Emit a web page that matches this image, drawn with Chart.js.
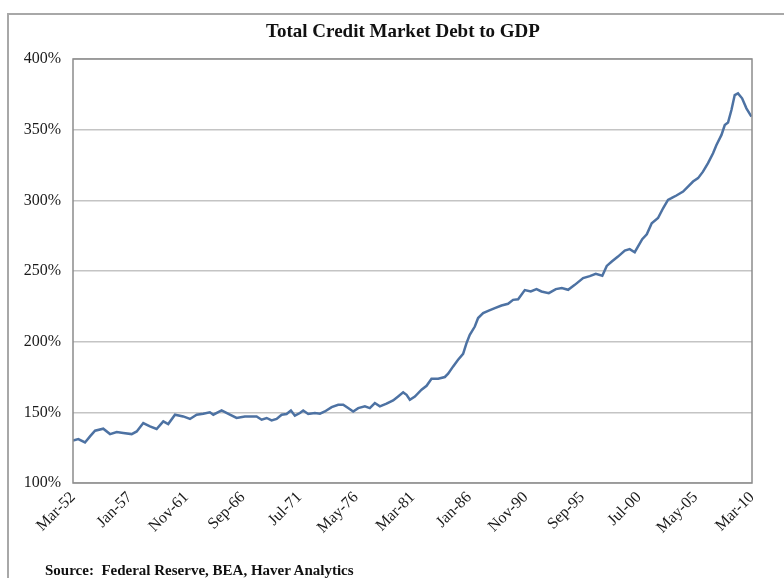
<!DOCTYPE html>
<html>
<head>
<meta charset="utf-8">
<script src="https://cdn.jsdelivr.net/npm/chart.js@4/dist/chart.umd.min.js"></script>
<style>
  html, body { margin: 0; padding: 0; background: #ffffff; }
  body { width: 784px; height: 578px; position: relative; overflow: hidden; }
  #frame { position: absolute; left: 7px; top: 13px; width: 900px; height: 700px;
           border-left: 2px solid #a8a8a8; border-top: 2px solid #a8a8a8; }
  #wrap { position: absolute; left: 0; top: 0; width: 784px; height: 578px; }
  #title { position: absolute; left: 203px; width: 400px; top: 19px; text-align: center;
           font-family: "Liberation Serif", serif; font-weight: bold; font-size: 19px;
           line-height: 23px; color: #111; white-space: nowrap; }
  #source { position: absolute; left: 45px; top: 562px; font-family: "Liberation Serif", serif;
            font-weight: bold; font-size: 15px; color: #111; white-space: pre; }
</style>
</head>
<body>
<div id="frame"></div>
<div id="wrap"><canvas id="c" width="784" height="578"></canvas></div>
<div id="title">Total Credit Market Debt to GDP</div>
<div id="source">Source:  Federal Reserve, BEA, Haver Analytics</div>
<script>
// Decimal-year positions of readings (Mar-52 .. Mar-10)
const years = [
  1952.17, 1952.62, 1953.19, 1953.62, 1954.05, 1954.75, 1955.33, 1955.90, 1956.46, 1957.18,
  1957.61, 1958.17, 1958.74, 1959.31, 1959.88, 1960.30, 1960.88, 1961.58, 1962.16, 1962.73,
  1963.29, 1963.86, 1964.15, 1964.86, 1965.57, 1966.14, 1966.85, 1967.85, 1968.28, 1968.71,
  1969.13, 1969.56, 1969.99, 1970.41, 1970.78, 1971.12, 1971.55, 1971.83, 1972.26, 1972.83,
  1973.26, 1973.68, 1974.26, 1974.82, 1975.25, 1975.67, 1976.10, 1976.53, 1977.10, 1977.52,
  1977.95, 1978.38, 1978.95, 1979.51, 1979.94, 1980.37, 1980.66, 1980.94, 1981.37, 1981.94,
  1982.37, 1982.79, 1983.36, 1983.93, 1984.21, 1984.64, 1985.06, 1985.49, 1985.78, 1986.06,
  1986.49, 1986.77, 1987.20, 1987.63, 1988.20, 1988.77, 1989.33, 1989.76, 1990.19, 1990.76,
  1991.27, 1991.76, 1992.18, 1992.81, 1993.41, 1993.92, 1994.46, 1995.03, 1995.74, 1996.31,
  1996.82, 1997.38, 1997.76, 1998.19, 1998.72, 1999.30, 1999.72, 2000.15, 2000.79, 2001.18,
  2001.60, 2002.14, 2002.57, 2002.99, 2003.28, 2003.71, 2004.28, 2004.70, 2005.13, 2005.56,
  2005.98, 2006.41, 2006.84, 2007.13, 2007.56, 2007.84, 2008.12, 2008.41, 2008.69, 2008.97,
  2009.32, 2009.69, 2010.12
];
// Total credit market debt as % of GDP
const debtPct = [
  130.1, 131.1, 128.7, 133.0, 137.0, 138.4, 134.6, 136.0, 135.4, 134.6,
  136.5, 142.4, 140.0, 138.2, 143.6, 141.7, 148.3, 147.1, 145.3, 148.3,
  149.0, 150.0, 148.3, 151.3, 148.3, 146.0, 147.1, 147.1, 144.8, 146.0,
  144.3, 145.3, 148.3, 148.8, 151.3, 147.6, 149.5, 151.3, 148.8, 149.5,
  149.0, 150.6, 153.7, 155.4, 155.4, 153.0, 150.6, 153.0, 154.2, 153.0,
  156.6, 154.2, 156.1, 158.4, 161.2, 164.1, 162.4, 158.9, 161.2, 166.0,
  168.8, 173.8, 173.8, 175.0, 177.3, 182.5, 187.2, 191.4, 199.0, 204.9,
  210.7, 216.7, 220.2, 221.8, 223.7, 225.6, 226.8, 229.6, 230.0, 236.5,
  235.5, 237.2, 235.5, 234.3, 237.2, 237.9, 236.7, 240.2, 245.0, 246.4,
  248.0, 246.6, 253.6, 256.7, 260.2, 264.5, 265.5, 263.3, 272.5, 276.0,
  283.8, 287.5, 294.4, 300.3, 301.5, 303.4, 306.2, 309.7, 313.3, 315.7,
  320.3, 326.3, 333.3, 339.2, 346.3, 353.3, 355.0, 363.9, 374.5, 375.7,
  372.2, 365.1, 359.2
];
const tickLabels = ['Mar-52','Jan-57','Nov-61','Sep-66','Jul-71','May-76','Mar-81',
                    'Jan-86','Nov-90','Sep-95','Jul-00','May-05','Mar-10'];
const yTicks = [100, 150, 200, 250, 300, 350, 400];

const MONTHS = ['Jan','Feb','Mar','Apr','May','Jun','Jul','Aug','Sep','Oct','Nov','Dec'];
function labelToYear(lbl) {
  const [m, yy] = lbl.split('-');
  const y = parseInt(yy, 10);
  return (y < 30 ? 2000 + y : 1900 + y) + MONTHS.indexOf(m) / 12;
}
const tickVals = tickLabels.map(labelToYear);
const labelMap = {};
tickVals.forEach((v, i) => { labelMap[v.toFixed(4)] = tickLabels[i]; });

const plotBorder = {
  id: 'plotBorder',
  afterDatasetsDraw(chart) {
    const a = chart.chartArea, ctx = chart.ctx;
    ctx.save();
    ctx.strokeStyle = '#8c8c8c';
    ctx.lineWidth = 1.5;
    ctx.strokeRect(a.left, a.top, a.right - a.left, a.bottom - a.top);
    ctx.restore();
  }
};

new Chart(document.getElementById('c'), {
  type: 'line',
  data: {
    datasets: [{
      data: years.map((x, i) => ({ x: x, y: debtPct[i] })),
      borderColor: '#4d72a3',
      borderWidth: 2.5,
      pointRadius: 0,
      tension: 0,
      fill: false
    }]
  },
  options: {
    responsive: false,
    animation: false,
    layout: { padding: { left: 0, right: 32, top: 59, bottom: 0 } },
    plugins: {
      legend: { display: false },
      tooltip: { enabled: false },
      title: { display: false }
    },
    scales: {
      x: {
        type: 'linear',
        min: tickVals[0],
        max: tickVals[tickVals.length - 1],
        afterBuildTicks(scale) { scale.ticks = tickVals.map(v => ({ value: v })); },
        afterFit(scale) { scale.height = 95; },
        grid: { display: false, drawTicks: false },
        border: { display: false },
        ticks: {
          autoSkip: false,
          minRotation: 45,
          maxRotation: 45,
          padding: 5,
          color: '#1a1a1a',
          font: { family: '"Liberation Serif", serif', size: 16 },
          callback: (v) => labelMap[Number(v).toFixed(4)] || ''
        }
      },
      y: {
        min: 100,
        max: 400,
        afterBuildTicks(scale) { scale.ticks = yTicks.map(v => ({ value: v })); },
        afterFit(scale) { scale.width = 73; },
        grid: { color: '#c4c4c4', lineWidth: 1.5, drawTicks: false },
        border: { display: false },
        ticks: {
          padding: 12,
          color: '#1a1a1a',
          font: { family: '"Liberation Serif", serif', size: 16 },
          callback: (v) => v + '%'
        }
      }
    }
  },
  plugins: [plotBorder]
});
</script>
</body>
</html>
